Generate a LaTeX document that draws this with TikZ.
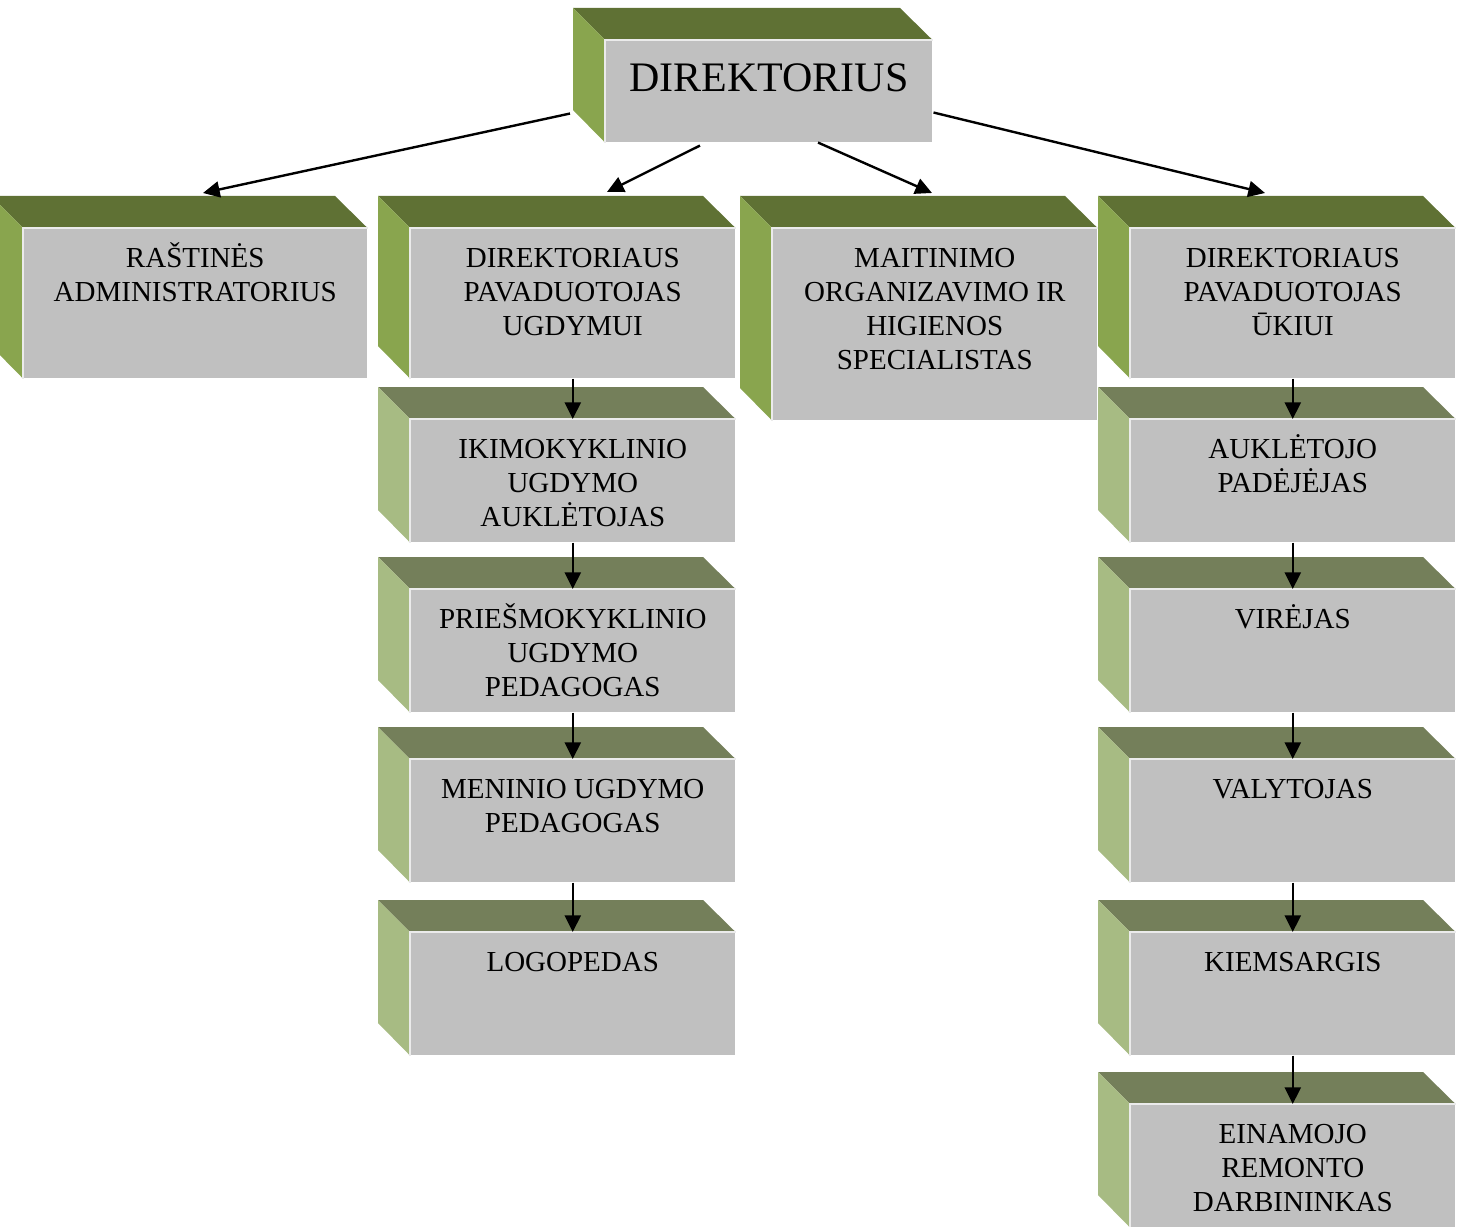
\documentclass[tikz,border=0pt]{standalone}
\usepackage{fontspec}
\setmainfont{Liberation Serif}
\usetikzlibrary{arrows.meta}

\definecolor{lvtopc}{RGB}{95,113,52}
\definecolor{lvsidec}{RGB}{137,165,78}
\definecolor{subtopc}{RGB}{116,127,90}
\definecolor{subsidec}{RGB}{167,187,131}
\definecolor{frontc}{RGB}{192,192,192}

\tikzset{
  front/.style={fill=frontc, draw=none, inner sep=0, anchor=north west},
  lvtop/.style={fill=lvtopc}, lvside/.style={fill=lvsidec},
  dirtop/.style={fill=lvtopc}, dirside/.style={fill=lvsidec},
  subtop/.style={fill=subtopc}, subside/.style={fill=subsidec},
  edge/.style={draw=white!92!black, line width=0.9pt},
  txt/.style={anchor=north, inner sep=0, align=center},
  lvtxt/.style={txt, font=\fontsize{21.75}{25.5}\selectfont},
  subtxt/.style={lvtxt},
  dirtxt/.style={txt, font=\fontsize{31.5}{36}\selectfont},
  arr/.style={-{Triangle[length=12.5pt,width=12pt]}, line width=1.8pt}
}

% deze: vardas, x, y, plotis, aukstis, tipas, tekstas
\newcommand{\Deze}[7]{%
  \node[front, minimum width=#4*0.75pt, minimum height=#5*0.75pt] (#1) at (#2,#3) {};
  \fill[#6top] (#1.north west) -- ++(-32,-32) -- ++(#4,0) -- (#1.north east) -- cycle;
  \fill[#6side] (#1.north west) -- ++(-32,-32) -- ++(0,#5) -- (#1.south west) -- cycle;
  \draw[edge] (#1.south west) -- (#1.north west) -- (#1.north east);
  \node[#6txt] (#1-t) at ([yshift=-7.3pt]#1.north) {\rule{0pt}{1em}#7};
}

\begin{document}
\begin{tikzpicture}[x=0.75pt, y=-0.75pt]
  \useasboundingbox (0,0) rectangle (1461,1227);
  \clip (0,0) rectangle (1461,1227);

  \Deze{dir}{605}{40}{327}{102}{dir}{DIREKTORIUS}

  \Deze{rast}{23}{228}{344}{150}{lv}{RAŠTINĖS\\ADMINISTRATORIUS}
  \Deze{ugd}{410}{228}{325}{150}{lv}{DIREKTORIAUS\\PAVADUOTOJAS\\UGDYMUI}
  \Deze{mait}{772}{228}{325}{192}{lv}{MAITINIMO\\ORGANIZAVIMO IR\\HIGIENOS\\SPECIALISTAS}
  \Deze{ukio}{1130}{228}{325}{150}{lv}{DIREKTORIAUS\\PAVADUOTOJAS\\ŪKIUI}

  \Deze{iki}{410}{419}{325}{123}{sub}{IKIMOKYKLINIO\\UGDYMO\\AUKLĖTOJAS}
  \Deze{pries}{410}{589}{325}{123}{sub}{PRIEŠMOKYKLINIO\\UGDYMO\\PEDAGOGAS}
  \Deze{men}{410}{759}{325}{123}{sub}{MENINIO UGDYMO\\PEDAGOGAS}
  \Deze{logo}{410}{932}{325}{123}{sub}{LOGOPEDAS}

  \Deze{auk}{1130}{419}{325}{123}{sub}{AUKLĖTOJO\\PADĖJĖJAS}
  \Deze{vir}{1130}{589}{325}{123}{sub}{VIRĖJAS}
  \Deze{val}{1130}{759}{325}{123}{sub}{VALYTOJAS}
  \Deze{kiem}{1130}{932}{325}{123}{sub}{KIEMSARGIS}
  \Deze{rem}{1130}{1104}{325}{123}{sub}{EINAMOJO\\REMONTO\\DARBININKAS}

  \draw[arr] ([shift={(-35,-29)}]dir.south west) -- ([shift={(180,-35)}]rast.north west);
  \draw[arr] ([shift={(95,3)}]dir.south west) -- ([shift={(197,-36)}]ugd.north west);
  \draw[arr] ([shift={(213,0)}]dir.south west) -- ([shift={(160,-35)}]mait.north west);
  \draw[arr] ([shift={(1,-30)}]dir.south east) -- ([shift={(135,-35)}]ukio.north west);

  \draw[arr] (ugd.south) -- (iki.north);
  \draw[arr] (iki.south) -- (pries.north);
  \draw[arr] (pries.south) -- (men.north);
  \draw[arr] (men.south) -- (logo.north);

  \draw[arr] (ukio.south) -- (auk.north);
  \draw[arr] (auk.south) -- (vir.north);
  \draw[arr] (vir.south) -- (val.north);
  \draw[arr] (val.south) -- (kiem.north);
  \draw[arr] (kiem.south) -- (rem.north);
\end{tikzpicture}
\end{document}
